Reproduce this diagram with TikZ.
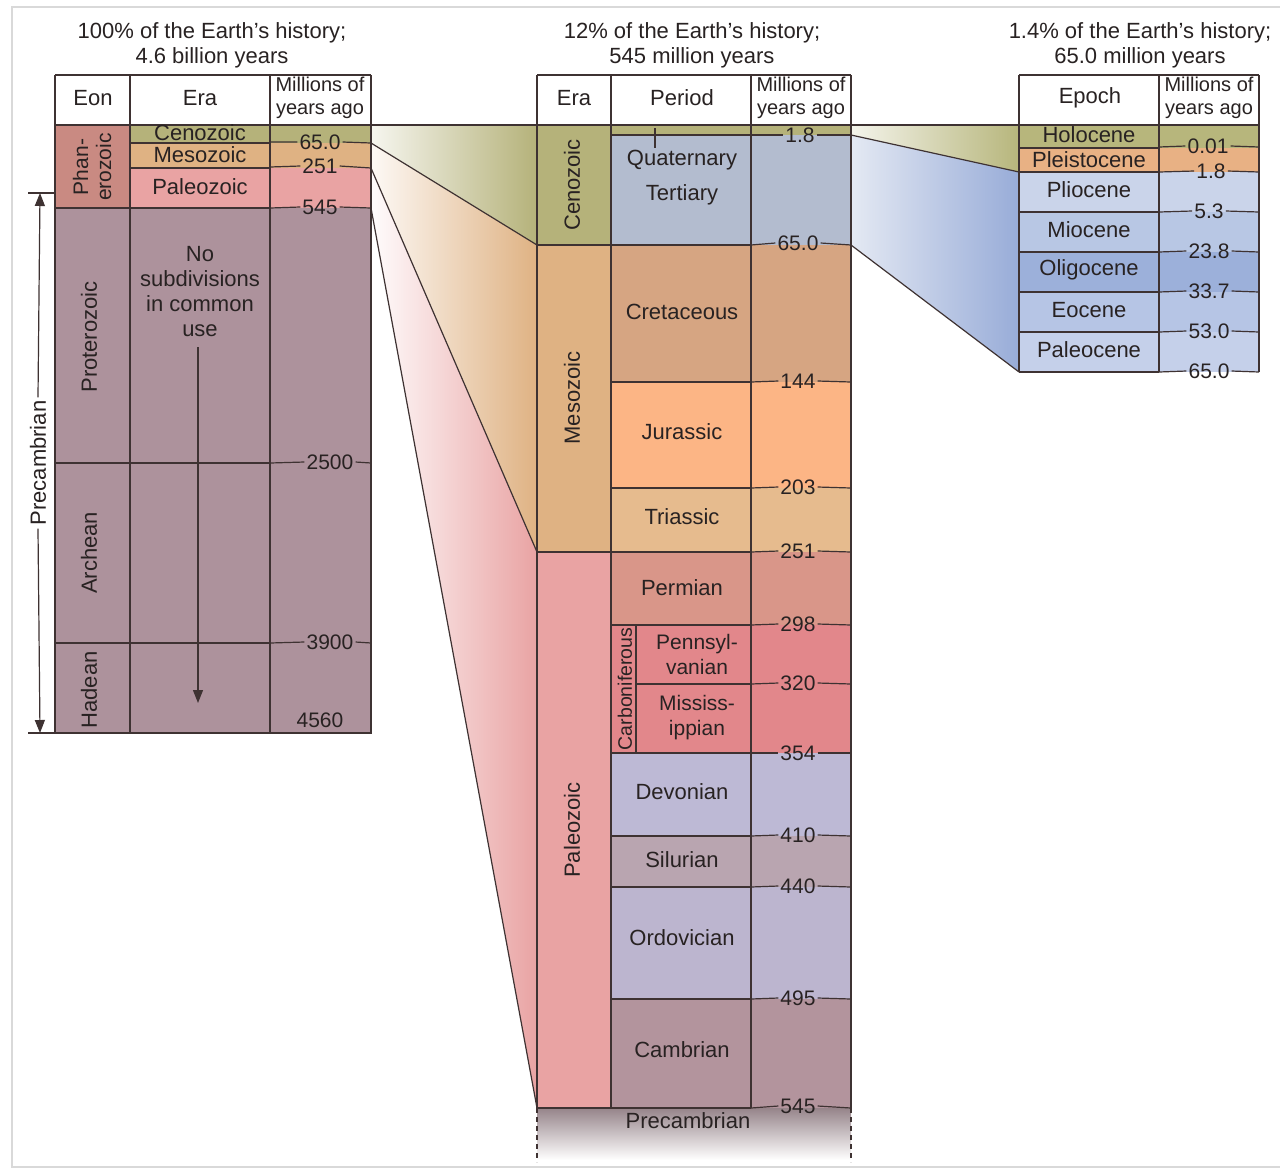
\documentclass[tikz,border=0pt]{standalone}
\usepackage{fontspec}
\setmainfont{Liberation Sans}
\usetikzlibrary{arrows.meta}
\definecolor{txt}{RGB}{40,34,34}
\definecolor{lc}{RGB}{62,50,50}
\definecolor{ceno}{RGB}{181,178,122}
\definecolor{meso}{RGB}{223,178,131}
\definecolor{paleo}{RGB}{233,163,163}
\definecolor{phan}{RGB}{201,138,130}
\definecolor{prec}{RGB}{173,146,156}
\definecolor{quat}{RGB}{179,188,207}
\definecolor{cret}{RGB}{214,165,130}
\definecolor{jura}{RGB}{252,181,133}
\definecolor{tria}{RGB}{230,187,142}
\definecolor{perm}{RGB}{217,150,137}
\definecolor{carb}{RGB}{226,135,139}
\definecolor{devo}{RGB}{189,185,213}
\definecolor{silu}{RGB}{185,165,176}
\definecolor{ordo}{RGB}{188,181,207}
\definecolor{camb}{RGB}{179,148,157}
\definecolor{holo}{RGB}{183,182,124}
\definecolor{pleis}{RGB}{232,177,132}
\definecolor{plio}{RGB}{202,212,234}
\definecolor{mio}{RGB}{184,199,228}
\definecolor{oligo}{RGB}{156,176,218}
\definecolor{eoc}{RGB}{182,197,229}
\definecolor{paleoc}{RGB}{197,208,234}
\definecolor{blueL}{RGB}{228,233,243}
\definecolor{blueR}{RGB}{152,172,216}
\definecolor{precD}{RGB}{150,132,138}
\begin{document}
\begin{tikzpicture}[x=1pt,y=-1pt,
  lab/.style={font=\fontsize{22}{25}\selectfont, text=txt, inner sep=0pt, align=center},
  hdr/.style={font=\fontsize{20}{23}\selectfont, text=txt, inner sep=0pt, align=center},
  num/.style={font=\fontsize{21}{22}\selectfont, text=txt, inner sep=2pt},
  rot/.style={lab, rotate=90},
  ln/.style={draw=lc, line width=1.2pt},
  frame/.style={draw=black!15, line width=1.6pt},
  tri/.style={-{Triangle[width=10pt,length=13pt]}}
]
\useasboundingbox (0,0) rectangle (1280,1171);
\fill[white] (0,0) rectangle (1280,1171);
\draw[frame] (1280,7) -- (12,7) -- (12,1167) -- (1280,1167);

% ---------- connector coordinates
\coordinate (L0) at (371,125);
\coordinate (L65) at (371,143);
\coordinate (L251) at (371,168);
\coordinate (L545) at (371,208);
\coordinate (M0) at (537,125);
\coordinate (M65) at (537,245);
\coordinate (M251) at (537,552);
\coordinate (M545) at (537,1108);
\coordinate (MR0) at (851,125);
\coordinate (MR18) at (851,135);
\coordinate (MR65) at (851,245);
\coordinate (R0) at (1019,125);
\coordinate (R18) at (1019,172);
\coordinate (R65) at (1019,372);

% ---------- connector fills
\shade[left color=ceno!12, right color=ceno] (L0) -- (M0) -- (M65) -- (L65) -- cycle;
\shade[left color=meso!8, right color=meso] (L65) -- (M65) -- (M251) -- (L251) -- cycle;
\shade[left color=paleo!3, right color=paleo] (L251) -- (M251) -- (M545) -- (L545) -- cycle;
\shade[left color=holo!15, right color=holo] (MR0) -- (R0) -- (R18) -- (MR18) -- cycle;
\shade[left color=blueL, right color=blueR] (MR18) -- (R18) -- (R65) -- (MR65) -- cycle;

% ---------- left table fills
\fill[white] (55,75) rectangle (371,125);
\fill[phan] (55,125) rectangle (130,208);
\fill[ceno] (130,125) rectangle (371,143);
\fill[meso] (130,143) rectangle (371,168);
\fill[paleo] (130,168) rectangle (371,208);
\fill[prec] (55,208) rectangle (371,733);

% ---------- middle table fills
\fill[white] (537,75) rectangle (851,125);
\fill[ceno] (537,125) rectangle (611,245);
\fill[ceno] (611,125) rectangle (851,135);
\fill[quat] (611,135) rectangle (851,245);
\fill[meso] (537,245) rectangle (611,552);
\fill[cret] (611,245) rectangle (851,382);
\fill[jura] (611,382) rectangle (851,488);
\fill[tria] (611,488) rectangle (851,552);
\fill[paleo] (537,552) rectangle (611,1108);
\fill[perm] (611,552) rectangle (851,625);
\fill[carb] (611,625) rectangle (851,753);
\fill[devo] (611,753) rectangle (851,836);
\fill[silu] (611,836) rectangle (851,887);
\fill[ordo] (611,887) rectangle (851,999);
\fill[camb] (611,999) rectangle (851,1108);
\shade[top color=precD, bottom color=white] (537,1108) rectangle (851,1160);

% ---------- right table fills
\fill[white] (1019,75) rectangle (1259,125);
\fill[holo] (1019,125) rectangle (1259,148);
\fill[pleis] (1019,148) rectangle (1259,172);
\fill[plio] (1019,172) rectangle (1259,212);
\fill[mio] (1019,212) rectangle (1259,252);
\fill[oligo] (1019,252) rectangle (1259,292);
\fill[eoc] (1019,292) rectangle (1259,332);
\fill[paleoc] (1019,332) rectangle (1259,372);

% ---------- connector lines
\draw[ln] (55,125) -- (1259,125);
\draw[ln] (L65) -- (M65);
\draw[ln] (L251) -- (M251);
\draw[ln] (L545) -- (M545);
\draw[ln] (MR18) -- (R18);
\draw[ln] (MR65) -- (R65);

% ---------- left table lines
\draw[ln] (55,75) -- (371,75);
\draw[ln] (55,75) -- (55,733) -- (371,733) -- (371,75);
\draw[ln] (130,75) -- (130,733);
\draw[ln] (270,75) -- (270,733);
\draw[ln] (130,143) -- (270,143);
\draw[ln] (130,168) -- (270,168);
\draw[ln] (55,208) -- (270,208);
\draw[ln] (55,463) -- (270,463);
\draw[ln] (55,643) -- (270,643);

% ---------- left table text
\node[lab] (ttlL) at (212,45) {100\% of the Earth's history;\\4.6 billion years};
\node[lab] (hEon) at (93,98) {Eon};
\node[lab] (hEraL) at (200,98) {Era};
\node[hdr] (hMyaL) at (320,98) {Millions of\\years ago};
\node[rot, font=\fontsize{21}{23}\selectfont] (phanL) at (92,167) {Phan-\\erozoic};
\node[rot] (protL) at (89,337) {Proterozoic};
\node[rot] (archL) at (89,553) {Archean};
\node[rot] (hadL) at (89,690) {Hadean};
\node[lab] (cenoL) at (200,133) {Cenozoic};
\node[lab] (mesoL) at (200,155) {Mesozoic};
\node[lab] (paleoL) at (200,187) {Paleozoic};
\node[lab] (nosub) at (200,292) {No\\subdivisions\\in common\\use};
\coordinate (arrEnd) at (198,703);
\draw[ln, tri] (nosub.south -| arrEnd) ++(0,10) -- (arrEnd);

\node[num] (nL65) at (320,142) {65.0};
\draw[ln] (270,142) -- (nL65.west) (nL65.east) -- (L65);
\node[num] (nL251) at (320,166) {251};
\draw[ln] (270,167) -- (nL251.west) (nL251.east) -- (L251);
\node[num] (nL545) at (320,207) {545};
\draw[ln] (270,208) -- (nL545.west) (nL545.east) -- (L545);
\node[num] (nL2500) at (330,462) {2500};
\draw[ln] (270,463) -- (nL2500.west) (nL2500.east) -- (371,463);
\node[num] (nL3900) at (330,642) {3900};
\draw[ln] (270,643) -- (nL3900.west) (nL3900.east) -- (371,643);
\node[num] (nL4560) at (320,720) {4560};

% Precambrian bracket
\coordinate (bTop) at (40,193);
\coordinate (bBot) at (40,733);
\draw[ln] (28,193) -- (55,193);
\draw[ln] (28,733) -- (55,733);
\node[rot, fill=white, inner sep=3pt] (precL) at (38,463) {Precambrian};
\draw[ln, tri] (precL.east) -- (bTop);
\draw[ln, tri] (precL.west) -- (bBot);

% ---------- middle table lines
\draw[ln] (537,75) -- (851,75);
\draw[ln] (537,75) -- (537,1108);
\draw[ln] (611,75) -- (611,1108);
\draw[ln] (751,75) -- (751,1108);
\draw[ln] (851,75) -- (851,1108);
\draw[ln] (636,625) -- (636,753);
\draw[ln] (655,128) -- (655,148);
\draw[ln] (537,245) -- (751,245);
\draw[ln] (611,382) -- (751,382);
\draw[ln] (611,488) -- (751,488);
\draw[ln] (537,552) -- (751,552);
\draw[ln] (611,625) -- (751,625);
\draw[ln] (636,684) -- (751,684);
\draw[ln] (611,753) -- (751,753);
\draw[ln] (611,836) -- (751,836);
\draw[ln] (611,887) -- (751,887);
\draw[ln] (611,999) -- (751,999);
\draw[ln] (537,1108) -- (751,1108);
\draw[ln, dashed, dash pattern=on 5pt off 4pt] (537,1108) -- (537,1162);
\draw[ln, dashed, dash pattern=on 5pt off 4pt] (851,1108) -- (851,1162);

% ---------- middle table text
\node[lab] (ttlM) at (692,45) {12\% of the Earth's history;\\545 million years};
\node[lab] (hEraM) at (574,98) {Era};
\node[lab] (hPer) at (682,98) {Period};
\node[hdr] (hMyaM) at (801,98) {Millions of\\years ago};
\node[rot] (cenoM) at (572,185) {Cenozoic};
\node[rot] (mesoM) at (572,398) {Mesozoic};
\node[rot] (paleoM) at (572,830) {Paleozoic};
\node[lab] (quat) at (682,160) {Quaternary};
\node[lab] (tert) at (682,195) {Tertiary};
\node[lab] (cretL) at (682,312) {Cretaceous};
\node[lab] (juraL) at (682,432) {Jurassic};
\node[lab] (triaL) at (682,517) {Triassic};
\node[lab] (permL) at (682,588) {Permian};
\node[lab, font=\fontsize{21}{25}\selectfont] (penn) at (697,654) {Pennsyl-\\vanian};
\node[lab, font=\fontsize{21}{25}\selectfont] (miss) at (697,718) {Mississ-\\ippian};
\node[rot, font=\fontsize{19.5}{22}\selectfont] (carbL) at (625,689) {Carboniferous};
\node[lab] (devoL) at (682,792) {Devonian};
\node[lab] (siluL) at (682,860) {Silurian};
\node[lab] (ordoL) at (682,938) {Ordovician};
\node[lab] (cambL) at (682,1050) {Cambrian};
\node[lab] (precM) at (688,1121) {Precambrian};

\node[num] (nM18) at (800,135) {1.8};
\draw[ln] (611,135) -- (nM18.west) (nM18.east) -- (MR18);
\node[num] (nM65) at (798,243) {65.0};
\draw[ln] (751,245) -- (nM65.west) (nM65.east) -- (MR65);
\node[num] (nM144) at (798,381) {144};
\draw[ln] (751,382) -- (nM144.west) (nM144.east) -- (851,382);
\node[num] (nM203) at (798,487) {203};
\draw[ln] (751,488) -- (nM203.west) (nM203.east) -- (851,488);
\node[num] (nM251) at (798,551) {251};
\draw[ln] (751,552) -- (nM251.west) (nM251.east) -- (851,552);
\node[num] (nM298) at (798,624) {298};
\draw[ln] (751,625) -- (nM298.west) (nM298.east) -- (851,625);
\node[num] (nM320) at (798,683) {320};
\draw[ln] (751,684) -- (nM320.west) (nM320.east) -- (851,684);
\node[num] (nM354) at (798,753) {354};
\draw[ln] (751,753) -- (nM354.west) (nM354.east) -- (851,753);
\node[num] (nM410) at (798,835) {410};
\draw[ln] (751,836) -- (nM410.west) (nM410.east) -- (851,836);
\node[num] (nM440) at (798,886) {440};
\draw[ln] (751,887) -- (nM440.west) (nM440.east) -- (851,887);
\node[num] (nM495) at (798,998) {495};
\draw[ln] (751,999) -- (nM495.west) (nM495.east) -- (851,999);
\node[num] (nM545) at (798,1106) {545};
\draw[ln] (751,1108) -- (nM545.west) (nM545.east) -- (851,1108);

% ---------- right table lines
\draw[ln] (1019,75) -- (1259,75);
\draw[ln] (1019,75) -- (1019,372);
\draw[ln] (1159,75) -- (1159,372);
\draw[ln] (1259,75) -- (1259,372);
\draw[ln] (1019,148) -- (1159,148);
\draw[ln] (1019,172) -- (1159,172);
\draw[ln] (1019,212) -- (1159,212);
\draw[ln] (1019,252) -- (1159,252);
\draw[ln] (1019,292) -- (1159,292);
\draw[ln] (1019,332) -- (1159,332);
\draw[ln] (1019,372) -- (1159,372);

% ---------- right table text
\node[lab] (ttlR) at (1140,45) {1.4\% of the Earth's history;\\65.0 million years};
\node[lab] (hEpoch) at (1090,98) {Epoch};
\node[hdr] (hMyaR) at (1209,98) {Millions of\\years ago};
\node[lab] (holoL) at (1089,135) {Holocene};
\node[lab] (pleisL) at (1089,160) {Pleistocene};
\node[lab] (plioL) at (1089,190) {Pliocene};
\node[lab] (mioL) at (1089,230) {Miocene};
\node[lab] (oligoL) at (1089,270) {Oligocene};
\node[lab] (eocL) at (1089,310) {Eocene};
\node[lab] (paleocL) at (1089,350) {Paleocene};

\node[num] (nR001) at (1208,146) {0.01};
\draw[ln] (1159,147) -- (nR001.west) (nR001.east) -- (1259,147);
\node[num] (nR18) at (1211,171) {1.8};
\draw[ln] (1159,172) -- (nR18.west) (nR18.east) -- (1259,172);
\node[num] (nR53) at (1209,211) {5.3};
\draw[ln] (1159,212) -- (nR53.west) (nR53.east) -- (1259,212);
\node[num] (nR238) at (1209,251) {23.8};
\draw[ln] (1159,252) -- (nR238.west) (nR238.east) -- (1259,252);
\node[num] (nR337) at (1209,291) {33.7};
\draw[ln] (1159,292) -- (nR337.west) (nR337.east) -- (1259,292);
\node[num] (nR530) at (1209,331) {53.0};
\draw[ln] (1159,332) -- (nR530.west) (nR530.east) -- (1259,332);
\node[num] (nR650) at (1209,371) {65.0};
\draw[ln] (1159,372) -- (nR650.west) (nR650.east) -- (1259,372);
\end{tikzpicture}
\end{document}
